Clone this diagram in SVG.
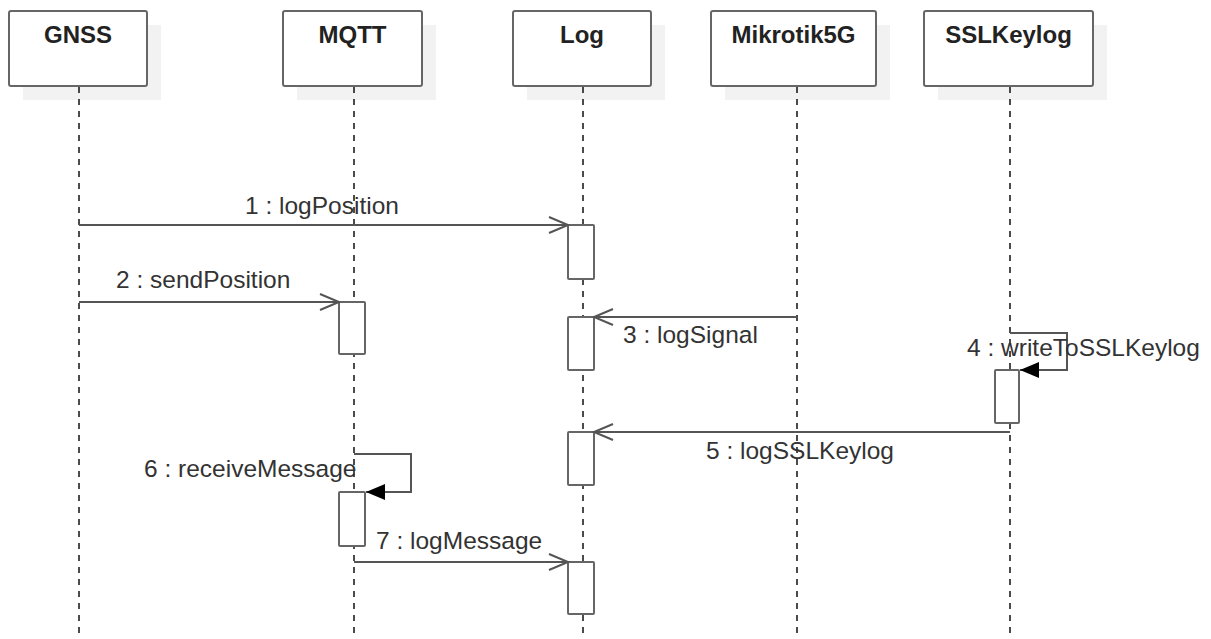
<svg xmlns="http://www.w3.org/2000/svg" width="1211" height="639" viewBox="0 0 1211 639">
  <style>
    .shadow { fill: #f2f2f2; stroke: none; }
    .head { fill: #ffffff; stroke: #666666; stroke-width: 2; }
    .title { font-family: "Liberation Sans", Arial, sans-serif; font-size: 24px; font-weight: bold; fill: #222222; text-anchor: middle; }
    .life { stroke: #111111; stroke-width: 1.5; stroke-dasharray: 6 6; fill: none; }
    .act { fill: #ffffff; stroke: #666666; stroke-width: 2; }
    .msg { stroke: #555555; stroke-width: 2; fill: none; }
    .open { marker-end: url(#openArrow); }
    .self { marker-end: url(#fillArrow); }
    .label { font-family: "Liberation Sans", Arial, sans-serif; font-size: 24.5px; fill: #333333; }
  </style>
  <defs>
    <marker id="openArrow" markerUnits="userSpaceOnUse" markerWidth="24" markerHeight="20" refX="20" refY="10" orient="auto" overflow="visible">
      <path d="M1 2 L20 10 L1 18" fill="none" stroke="#555555" stroke-width="2"/>
    </marker>
    <marker id="fillArrow" markerUnits="userSpaceOnUse" markerWidth="24" markerHeight="20" refX="20" refY="10" orient="auto" overflow="visible">
      <path d="M1 2 L20 10 L1 18 Z" fill="#000000" stroke="none"/>
    </marker>
  </defs>

  <rect width="1211" height="639" fill="#ffffff"/>

  <!-- GNSS lifeline -->
  <g id="gnss">
    <rect class="shadow" x="23" y="25" width="138" height="75"/>
    <rect class="head" x="9" y="11" width="138" height="75" rx="2"/>
    <text class="title" x="78" y="43">GNSS</text>
    <line class="life" x1="79" y1="87" x2="79" y2="639"/>
  </g>

  <!-- MQTT lifeline -->
  <g id="mqtt">
    <rect class="shadow" x="297" y="25" width="139" height="75"/>
    <rect class="head" x="283" y="11" width="139" height="75" rx="2"/>
    <text class="title" x="352.5" y="43">MQTT</text>
    <line class="life" x1="354" y1="87" x2="354" y2="639"/>
    <rect class="act" x="339" y="302" width="26" height="52" rx="1"/>
    <rect class="act" x="339" y="492" width="26" height="54" rx="1"/>
  </g>

  <!-- Log lifeline -->
  <g id="log">
    <rect class="shadow" x="527" y="25" width="138" height="75"/>
    <rect class="head" x="513" y="11" width="138" height="75" rx="2"/>
    <text class="title" x="582" y="43">Log</text>
    <line class="life" x1="583" y1="87" x2="583" y2="639"/>
    <rect class="act" x="568" y="225" width="26" height="54" rx="1"/>
    <rect class="act" x="568" y="317" width="26" height="53" rx="1"/>
    <rect class="act" x="568" y="432" width="26" height="53" rx="1"/>
    <rect class="act" x="568" y="562" width="26" height="52" rx="1"/>
  </g>

  <!-- Mikrotik5G lifeline -->
  <g id="mikrotik5g">
    <rect class="shadow" x="725" y="25" width="165" height="75"/>
    <rect class="head" x="711" y="11" width="165" height="75" rx="2"/>
    <text class="title" x="793.5" y="43">Mikrotik5G</text>
    <line class="life" x1="797" y1="87" x2="797" y2="639"/>
  </g>

  <!-- SSLKeylog lifeline -->
  <g id="sslkeylog">
    <rect class="shadow" x="938" y="25" width="169" height="75"/>
    <rect class="head" x="924" y="11" width="169" height="75" rx="2"/>
    <text class="title" x="1008.5" y="43">SSLKeylog</text>
    <line class="life" x1="1010" y1="87" x2="1010" y2="639"/>
    <rect class="act" x="995" y="370" width="24" height="53" rx="1"/>
  </g>

  <!-- messages -->
  <g id="connectors">
    <line class="msg open" x1="79" y1="225" x2="568" y2="225"/>
    <text class="label" x="245" y="214">1 : logPosition</text>

    <line class="msg open" x1="79" y1="302" x2="339" y2="302"/>
    <text class="label" x="116" y="288">2 : sendPosition</text>

    <line class="msg open" x1="797" y1="317" x2="594" y2="317"/>
    <text class="label" x="623" y="343">3 : logSignal</text>

    <polyline class="msg self" points="1010,333 1067,333 1067,370 1020,370"/>
    <text class="label" x="967" y="356">4 : writeToSSLKeylog</text>

    <line class="msg open" x1="1010" y1="432" x2="594" y2="432"/>
    <text class="label" x="706" y="459">5 : logSSLKeylog</text>

    <polyline class="msg self" points="354,454 411,454 411,492 366,492"/>
    <text class="label" x="144" y="477">6 : receiveMessage</text>

    <line class="msg open" x1="354" y1="562" x2="568" y2="562"/>
    <text class="label" x="376" y="549">7 : logMessage</text>
  </g>
</svg>
